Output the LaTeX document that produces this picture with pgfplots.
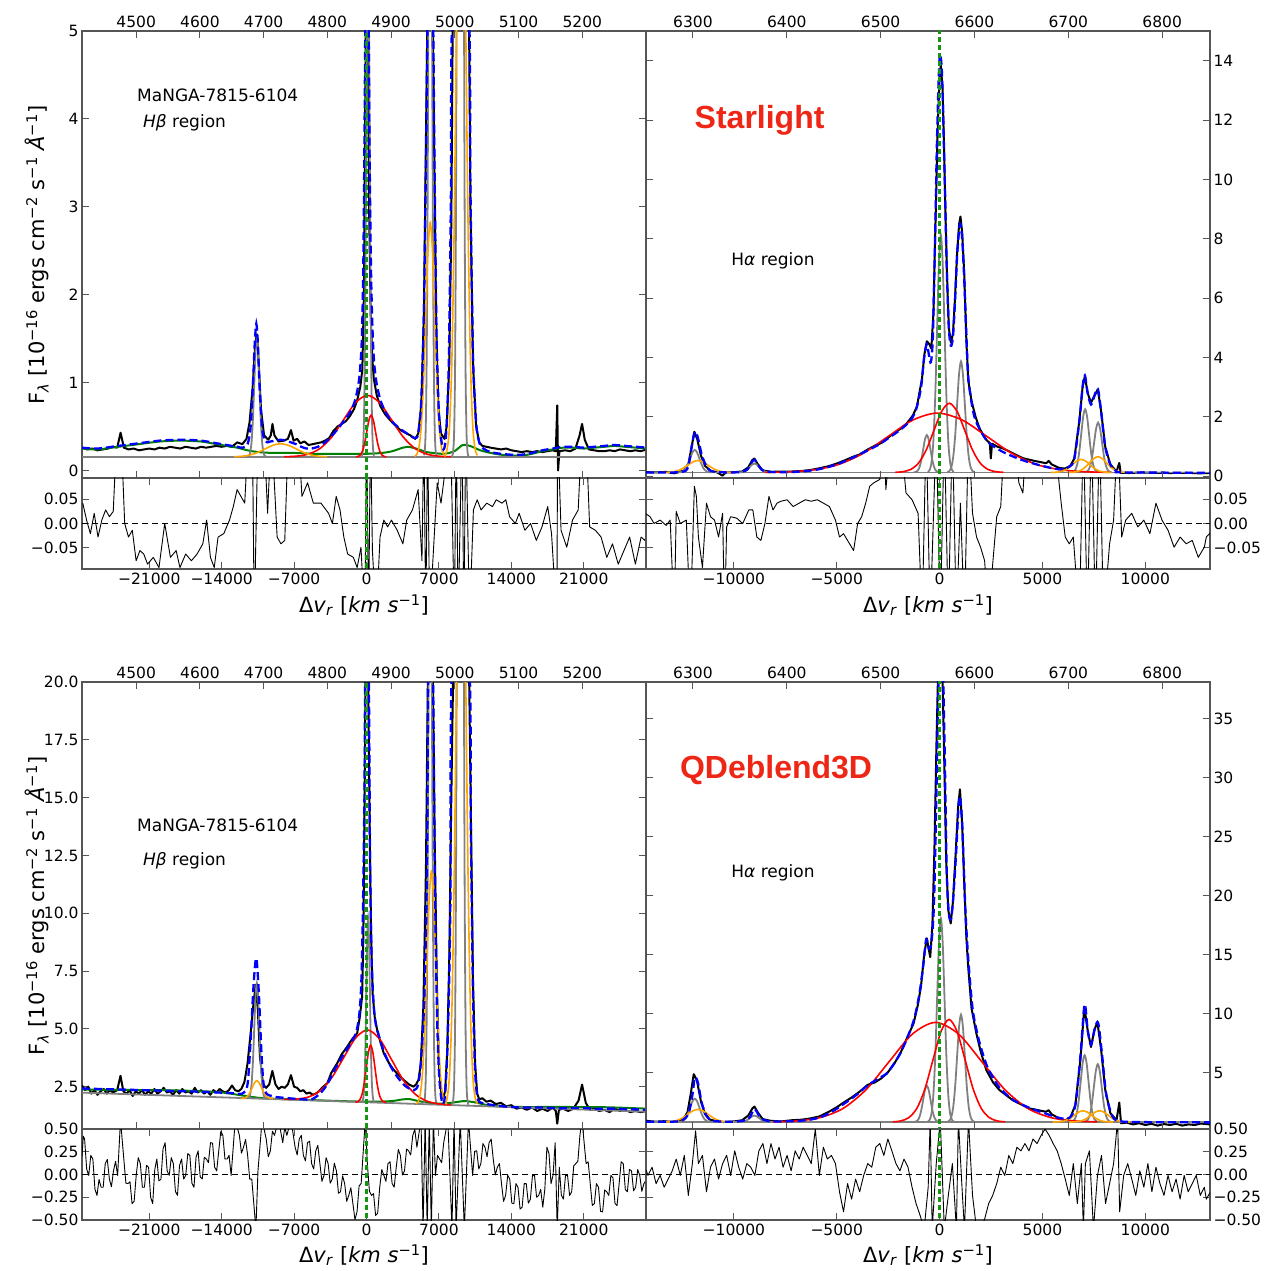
\documentclass[border=0pt]{standalone}
\usepackage{fontspec}
\setmainfont{DejaVu Sans}
\newfontfamily\labfont{Liberation Sans}
\usepackage{pgfplots}
\pgfplotsset{compat=1.18}
\definecolor{mplblue}{RGB}{0,0,255}
\definecolor{mplgreen}{RGB}{0,128,0}
\definecolor{vzgreen}{RGB}{20,150,20}
\definecolor{mplorange}{RGB}{255,165,0}
\definecolor{mplgray}{RGB}{128,128,128}
\definecolor{mplred}{RGB}{255,0,0}
\definecolor{labred}{RGB}{238,38,22}
\definecolor{framegray}{RGB}{85,85,85}
\newcommand\ticksize{\fontsize{15.5}{18}\selectfont}
\newcommand\labsize{\fontsize{21}{25}\selectfont}
\newcommand\txtsize{\fontsize{17}{20}\selectfont}
\pgfplotsset{
 common/.style={scale only axis, width=564pt, anchor=south west, scaled ticks=false,
   axis line style={framegray, line width=1.2pt},
   every tick/.style={framegray, line width=1pt},
   major tick length=7pt, tick label style={font=\ticksize}},
 mainax/.style={common, height=447pt, xtick=\empty},
 twinax/.style={common, height=447pt, ymin=0, ymax=1, ytick=\empty,
   axis line style={draw=none}, xticklabel pos=upper},
 resax/.style={common, height=91pt},
 obs/.style={black, line width=2pt, line join=round},
 mod/.style={mplblue, line width=2.3pt, dash pattern=on 8pt off 4pt, smooth},
 gcomp/.style={mplgray, line width=1.8pt, smooth},
 rcomp/.style={mplred, line width=1.6pt, smooth},
 ocomp/.style={mplorange, line width=1.6pt, smooth},
 grcomp/.style={mplgreen, line width=2pt, smooth},
 res/.style={black, line width=0.9pt, line join=round},
 vz/.style={vzgreen, line width=2.2pt, dash pattern=on 5pt off 3pt},
 zl/.style={black, line width=1.4pt, dash pattern=on 6pt off 4pt},
}
\begin{document}
\begin{tikzpicture}
\path[use as bounding box] (0pt,0pt) rectangle (1276pt,1270pt);
%================ TOP LEFT MAIN
\begin{axis}[mainax, at={(82pt,792pt)}, xmin=-27500, xmax=27020, ymin=-0.085, ymax=5,
  ytick={0,1,2,3,4,5}, yticklabels={0,1,2,3,4,5}]
\addplot[obs] coordinates {(-27500,0.26) (-27000,0.24) (-26500,0.25) (-26000,0.23) (-25500,0.24) (-25000,0.25) (-24500,0.27) (-24100,0.26) (-23770,0.43) (-23450,0.26) (-23000,0.24) (-22500,0.25) (-22000,0.23) (-21500,0.24) (-21000,0.25) (-20500,0.24) (-20000,0.26) (-19500,0.25) (-19000,0.27) (-18500,0.26) (-18000,0.25) (-17500,0.27) (-17000,0.26) (-16500,0.25) (-16000,0.27) (-15500,0.26) (-15000,0.27) (-14500,0.28) (-14000,0.27) (-13500,0.28) (-13000,0.27) (-12500,0.32) (-12000,0.30) (-11600,0.36) (-11300,0.55) (-11000,0.95) (-10750,1.45) (-10600,1.55) (-10450,1.30) (-10200,0.70) (-9900,0.40) (-9500,0.35) (-9250,0.40) (-9090,0.53) (-8900,0.40) (-8500,0.33) (-8000,0.34) (-7600,0.36) (-7300,0.46) (-7050,0.34) (-6700,0.36) (-6400,0.31) (-6000,0.33) (-5600,0.29) (-5200,0.30) (-4800,0.31) (-4400,0.32) (-4000,0.34) (-3600,0.37) (-3200,0.45) (-2800,0.50) (-2400,0.53) (-2000,0.56) (-1600,0.62) (-1200,0.70) (-900,0.80) (-600,0.95) (-400,1.15) (-250,2.0) (-130,4.0) (-50,5.3) (120,5.3) (250,3.0) (400,1.8) (550,1.3) (700,1.05) (1000,0.85) (1350,0.73) (1800,0.64) (2310,0.57) (2800,0.51) (3270,0.46) (3750,0.43) (4235,0.40) (4716,0.36) (5000,0.42) (5300,0.75) (5550,1.8) (5750,3.8) (5900,5.3) (6400,5.3) (6550,3.6) (6750,1.6) (6950,0.7) (7200,0.42) (7545,0.36) (7750,0.50) (8000,1.2) (8200,2.8) (8350,5.3) (9900,5.3) (10050,3.0) (10300,1.2) (10600,0.5) (10900,0.32) (11200,0.28) (11600,0.27) (12000,0.26) (12500,0.25) (13000,0.24) (13500,0.25) (14000,0.23) (14500,0.22) (15000,0.21) (15500,0.22) (16000,0.21) (16500,0.22) (17000,0.21) (17500,0.22) (18000,0.23) (18300,0.22) (18440,0.74) (18520,0.0) (18650,0.22) (19200,0.23) (19700,0.22) (20200,0.25) (20600,0.40) (20840,0.53) (21100,0.35) (21500,0.24) (22000,0.23) (22500,0.22) (23000,0.22) (23500,0.23) (24000,0.22) (24500,0.24) (25000,0.23) (25500,0.22) (26000,0.23) (26500,0.22) (27100,0.24)};
\addplot[grcomp] coordinates {(-27500,0.25) (-26000,0.24) (-24000,0.27) (-22000,0.30) (-20000,0.33) (-18000,0.34) (-16000,0.33) (-14500,0.30) (-13500,0.28) (-12500,0.26) (-11500,0.23) (-10500,0.21) (-9000,0.20) (-7000,0.20) (-5000,0.19) (-3000,0.19) (-1000,0.19) (0,0.19) (1500,0.20) (2500,0.22) (3500,0.26) (4000,0.27) (4800,0.25) (5800,0.21) (6500,0.20) (7500,0.19) (8500,0.22) (9300,0.29) (10000,0.28) (11000,0.23) (12000,0.20) (13000,0.18) (14000,0.17) (15000,0.17) (16000,0.19) (17000,0.22) (18000,0.24) (19000,0.26) (20000,0.26) (21000,0.25) (22000,0.26) (23000,0.27) (24000,0.28) (25000,0.27) (27100,0.25)};
\addplot[gcomp] coordinates {(-27500,0.155) (27100,0.155)};
\addplot[gcomp] coordinates {(-450,0.168) (-365,0.220) (-280,0.412) (-195,0.947) (-110,2.054) (-25,3.703) (60,5.318) (145,6.005) (230,5.318) (315,3.703) (400,2.054) (485,0.947) (570,0.412) (655,0.220) (740,0.168)};
\addplot[gcomp] coordinates {(-11475,0.158) (-11350,0.170) (-11225,0.214) (-11100,0.338) (-10975,0.593) (-10850,0.974) (-10725,1.346) (-10600,1.505) (-10475,1.346) (-10350,0.974) (-10225,0.593) (-10100,0.338) (-9975,0.214) (-9850,0.170) (-9725,0.158)};
\addplot[gcomp] coordinates {(5565,0.174) (5650,0.249) (5735,0.528) (5820,1.305) (5905,2.915) (5990,5.31) (6075,7.655) (6160,8.655) (6245,7.655) (6330,5.31) (6415,2.915) (6500,1.305) (6585,0.528) (6670,0.249) (6755,0.174)};
\addplot[gcomp] coordinates {(8270,0.163) (8370,0.21) (8470,0.433) (8570,1.25) (8670,3.54) (8770,8.27) (8870,15.32) (8970,22.22) (9070,25.155) (9170,22.22) (9270,15.32) (9370,8.27) (9470,3.54) (9570,1.25) (9670,0.433) (9770,0.21) (9870,0.163)};
\addplot[rcomp] coordinates {(-7950,0.157) (-6800,0.163) (-5650,0.186) (-4500,0.250) (-3350,0.382) (-2200,0.580) (-1050,0.773) (100,0.855) (1250,0.773) (2400,0.580) (3550,0.382) (4700,0.250) (5850,0.186) (7000,0.163) (8150,0.157)};
\addplot[rcomp] coordinates {(-1020,0.156) (-810,0.160) (-600,0.176) (-390,0.219) (-180,0.309) (30,0.443) (240,0.574) (450,0.630) (660,0.574) (870,0.443) (1080,0.309) (1290,0.219) (1500,0.176) (1710,0.160) (1920,0.156)};
\addplot[ocomp] coordinates {(-12800,0.157) (-12050,0.162) (-11300,0.175) (-10550,0.204) (-9800,0.246) (-9050,0.287) (-8300,0.305) (-7550,0.287) (-6800,0.246) (-6050,0.204) (-5300,0.175) (-4550,0.162) (-3800,0.157)};
\addplot[ocomp] coordinates {(4655,0.161) (4870,0.185) (5085,0.272) (5300,0.516) (5515,1.02) (5730,1.771) (5945,2.507) (6160,2.82) (6375,2.507) (6590,1.771) (6805,1.02) (7020,0.516) (7235,0.272) (7450,0.185) (7665,0.161)};
\addplot[ocomp] coordinates {(7575,0.173) (7800,0.244) (8025,0.506) (8250,1.237) (8475,2.753) (8700,5.007) (8925,7.215) (9150,8.155) (9375,7.215) (9600,5.007) (9825,2.753) (10050,1.237) (10275,0.506) (10500,0.244) (10725,0.173)};
\addplot[mod] coordinates {(-27500,0.26) (-26000,0.25) (-24000,0.28) (-22000,0.31) (-20000,0.34) (-18000,0.35) (-16000,0.34) (-14500,0.31) (-13500,0.29) (-12500,0.27) (-12000,0.26) (-11500,0.30) (-11200,0.50) (-10950,1.05) (-10800,1.45) (-10650,1.67) (-10500,1.45) (-10350,1.0) (-10100,0.50) (-9800,0.33) (-9300,0.33) (-8800,0.34) (-8300,0.35) (-7800,0.34) (-7300,0.32) (-6800,0.30) (-6300,0.27) (-5800,0.25) (-5300,0.25) (-4700,0.27) (-4000,0.32) (-3400,0.39) (-2800,0.47) (-2200,0.56) (-1600,0.66) (-1100,0.80) (-700,1.05) (-450,1.5) (-300,2.4) (-180,4.0) (-80,5.3) (180,5.3) (300,3.6) (450,2.2) (650,1.4) (900,1.05) (1300,0.82) (1800,0.67) (2300,0.58) (2800,0.52) (3300,0.47) (3800,0.43) (4300,0.39) (4700,0.37) (5000,0.42) (5300,0.8) (5550,1.8) (5780,3.8) (5950,5.3) (6400,5.3) (6550,3.8) (6750,1.7) (6950,0.8) (7150,0.42) (7450,0.24) (7700,0.42) (7950,1.2) (8150,3.0) (8350,5.3) (9850,5.3) (10050,3.2) (10300,1.3) (10600,0.55) (10900,0.32) (11300,0.25) (12000,0.21) (13000,0.19) (14000,0.18) (15000,0.18) (16000,0.2) (17000,0.23) (18000,0.25) (19000,0.27) (20000,0.27) (21000,0.26) (22000,0.27) (23000,0.28) (24000,0.29) (25000,0.28) (27100,0.26)};
\addplot[vz] coordinates {(0,-1) (0,6)};
\node[anchor=west, font=\txtsize, inner sep=0pt] at (rel axis cs:0.0975,0.857) {MaNGA-7815-6104};
\node[anchor=west, font=\txtsize, inner sep=0pt] at (rel axis cs:0.108,0.794) {\textit{Hβ} region};
\end{axis}
\begin{axis}[twinax, at={(82pt,792pt)}, xmin=4415, xmax=5300,
  xtick={4500,4600,4700,4800,4900,5000,5100,5200}, xticklabels={4500,4600,4700,4800,4900,5000,5100,5200}]
\end{axis}
%================ TOP LEFT RESIDUAL
\begin{axis}[resax, at={(82pt,701pt)}, xmin=-27500, xmax=27020, ymin=-0.094, ymax=0.094,
  xtick={-21000,-14000,-7000,0,7000,14000,21000}, xticklabels={−21000,−14000,−7000,0,7000,14000,21000},
  ytick={-0.05,0,0.05}, yticklabels={−0.05,0.00,0.05}]
\addplot[res] coordinates {(-27426,0.042) (-27057,0.007) (-26689,-0.021) (-26320,0.021) (-25952,-0.028) (-25584,0.007) (-25215,0.028) (-24847,0.014) (-24479,0.025) (-24110,0.2) (-23742,0.2) (-23373,0) (-23005,-0.028) (-22637,-0.014) (-22268,-0.077) (-21900,-0.056) (-21531,-0.063) (-21163,-0.084) (-20610,-0.070) (-20058,-0.091) (-19505,0.0) (-18953,-0.070) (-18400,-0.056) (-18032,-0.091) (-17479,-0.063) (-16926,-0.077) (-16374,-0.063) (-15821,-0.042) (-15453,0.007) (-15084,-0.070) (-14716,-0.091) (-14348,-0.028) (-13795,-0.021) (-13242,0.007) (-12874,0.035) (-12506,0.070) (-12137,0.056) (-11769,0.042) (-11400,0.2) (-11032,0.2) (-10848,-0.2) (-10479,0.2) (-9927,0.2) (-9558,0.021) (-9190,0.2) (-8637,-0.028) (-8269,-0.042) (-7900,-0.035) (-7532,0.2) (-6980,0.2) (-6611,0.2) (-6243,0.056) (-5690,0.084) (-5138,0.042) (-4401,0.042) (-3664,0.021) (-3296,0.0) (-2927,0.056) (-2559,0.028) (-2190,-0.028) (-1822,-0.063) (-1269,-0.070) (-901,-0.091) (-533,-0.049) (-164,-0.2) (20,0.2) (204,-0.2) (388,0.2) (573,-0.056) (941,-0.2) (1309,-0.028) (1678,0.007) (2046,-0.007) (2415,0.007) (2967,-0.014) (3520,-0.042) (3888,0.007) (4441,0.028) (4993,0.070) (5362,-0.077) (5546,0.2) (5730,-0.2) (5914,0.2) (6099,-0.2) (6835,0.084) (7204,0.042) (8125,0.2) (8493,-0.2) (8677,0.2) (8862,-0.2) (9230,0.2) (9414,-0.2) (9598,0.2) (9967,-0.2) (10335,0.028) (10704,0.049) (11072,0.028) (11625,0.042) (12177,0.035) (12546,0.049) (13098,0.042) (13467,0.049) (13835,0.014) (14388,0.0) (14756,0.021) (15309,-0.014) (15861,0.0) (16414,-0.035) (16966,-0.007) (17519,0.035) (17887,-0.021) (18400,-0.2) (18480,0.2) (18808,-0.014) (19361,-0.049) (19914,0.007) (20466,0.028) (20835,0.2) (21203,0.2) (21571,-0.007) (22124,-0.014) (22677,-0.028) (23229,-0.070) (23782,-0.042) (24334,-0.084) (24887,-0.056) (25440,-0.028) (25992,-0.084) (26545,-0.028) (26913,-0.035) (27100,-0.02)};
\addplot[zl] coordinates {(-27500,0) (27020,0)};
\addplot[vz] coordinates {(0,-1) (0,1)};
\end{axis}
%================ TOP RIGHT MAIN
\begin{axis}[mainax, at={(646pt,792pt)}, xmin=-14270, xmax=13145, ymin=-0.057, ymax=15,
  ytick={0,2,4,6,8,10,12,14}, yticklabels={0,2,4,6,8,10,12,14}, yticklabel pos=right]
\addplot[obs] coordinates {(-14270,0.14) (-13800,0.13) (-13300,0.15) (-12900,0.10) (-12700,0.14) (-12400,0.20) (-12200,0.45) (-12050,1.0) (-11920,1.5) (-11780,1.25) (-11600,0.7) (-11400,0.35) (-11100,0.17) (-10800,0.13) (-10550,0.02) (-10400,0.13) (-10000,0.14) (-9600,0.16) (-9300,0.30) (-9100,0.55) (-9000,0.60) (-8850,0.42) (-8600,0.2) (-8200,0.15) (-7700,0.16) (-7200,0.16) (-6700,0.18) (-6300,0.21) (-5850,0.27) (-5400,0.34) (-5000,0.43) (-4600,0.54) (-4200,0.66) (-3900,0.73) (-3500,0.90) (-3100,1.05) (-2870,1.11) (-2600,1.25) (-2230,1.45) (-1900,1.60) (-1585,1.79) (-1300,2.05) (-1100,2.35) (-960,2.9) (-860,3.25) (-740,4.1) (-620,4.55) (-500,4.45) (-400,4.3) (-300,5.5) (-200,8.5) (-100,11.5) (0,13.5) (60,13.85) (150,13.0) (250,10.0) (350,7.0) (450,5.0) (550,4.5) (650,4.8) (750,6.0) (850,7.5) (950,8.5) (1015,8.75) (1100,8.2) (1200,6.8) (1300,4.6) (1390,3.25) (1550,2.55) (1750,2.0) (1950,1.6) (2280,1.22) (2440,1.12) (2490,0.6) (2550,1.1) (2800,1.0) (3080,0.94) (3500,0.80) (4050,0.61) (4600,0.52) (5180,0.44) (5300,0.52) (5450,0.40) (5820,0.28) (6100,0.26) (6350,0.35) (6550,0.6) (6800,1.9) (6950,3.0) (7060,3.38) (7200,2.8) (7360,2.48) (7520,2.7) (7690,2.93) (7850,2.2) (8050,1.0) (8300,0.4) (8600,0.16) (8735,0.45) (8800,0.12) (9200,0.11) (9800,0.13) (10500,0.12) (11200,0.11) (12000,0.12) (12600,0.10) (13145,0.11)};
\addplot[gcomp] coordinates {(-14270,0.13) (13145,0.13)};
\addplot[gcomp] coordinates {(-570,0.148) (-480,0.219) (-390,0.482) (-300,1.214) (-210,2.731) (-120,4.988) (-30,7.199) (60,8.14) (150,7.199) (240,4.988) (330,2.731) (420,1.214) (510,0.482) (600,0.219) (690,0.148)};
\addplot[gcomp] coordinates {(-1250,0.133) (-1160,0.144) (-1070,0.185) (-980,0.300) (-890,0.539) (-800,0.894) (-710,1.242) (-620,1.39) (-530,1.242) (-440,0.894) (-350,0.539) (-260,0.300) (-170,0.185) (-80,0.144) (10,0.133)};
\addplot[gcomp] coordinates {(375,0.138) (470,0.172) (565,0.294) (660,0.636) (755,1.344) (850,2.398) (945,3.431) (1040,3.87) (1135,3.431) (1230,2.398) (1325,1.344) (1420,0.636) (1515,0.294) (1610,0.172) (1705,0.138)};
\addplot[gcomp] coordinates {(6410,0.135) (6505,0.154) (6600,0.224) (6695,0.418) (6790,0.822) (6885,1.422) (6980,2.01) (7075,2.26) (7170,2.01) (7265,1.422) (7360,0.822) (7455,0.418) (7550,0.224) (7645,0.154) (7740,0.135)};
\addplot[gcomp] coordinates {(7040,0.134) (7135,0.149) (7230,0.204) (7325,0.357) (7420,0.675) (7515,1.149) (7610,1.613) (7705,1.81) (7800,1.613) (7895,1.149) (7990,0.675) (8085,0.357) (8180,0.204) (8275,0.149) (8370,0.134)};
\addplot[gcomp] coordinates {(-12705,0.132) (-12590,0.138) (-12475,0.163) (-12360,0.233) (-12245,0.377) (-12130,0.591) (-12015,0.801) (-11900,0.89) (-11785,0.801) (-11670,0.591) (-11555,0.377) (-11440,0.233) (-11325,0.163) (-11210,0.138) (-11095,0.132)};
\addplot[gcomp] coordinates {(-9805,0.131) (-9690,0.133) (-9575,0.143) (-9460,0.171) (-9345,0.227) (-9230,0.312) (-9115,0.395) (-9000,0.43) (-8885,0.395) (-8770,0.312) (-8655,0.227) (-8540,0.171) (-8425,0.143) (-8310,0.133) (-8195,0.131)};
\addplot[rcomp] coordinates {(-8500,0.134) (-7300,0.152) (-6100,0.218) (-4900,0.401) (-3700,0.779) (-2500,1.343) (-1300,1.895) (-100,2.13) (1100,1.895) (2300,1.343) (3500,0.779) (4700,0.401) (5900,0.218) (7100,0.152) (8300,0.134)};
\addplot[rcomp] coordinates {(-2150,0.135) (-1775,0.156) (-1400,0.232) (-1025,0.445) (-650,0.887) (-275,1.543) (100,2.186) (475,2.46) (850,2.186) (1225,1.543) (1600,0.887) (1975,0.445) (2350,0.232) (2725,0.156) (3100,0.135)};
\addplot[ocomp] coordinates {(-13500,0.131) (-13250,0.134) (-13000,0.148) (-12750,0.184) (-12500,0.26) (-12250,0.373) (-12000,0.483) (-11750,0.53) (-11500,0.483) (-11250,0.373) (-11000,0.26) (-10750,0.184) (-10500,0.148) (-10250,0.134) (-10000,0.131)};
\addplot[ocomp] coordinates {(5410,0.131) (5620,0.135) (5830,0.149) (6040,0.19) (6250,0.273) (6460,0.397) (6670,0.518) (6880,0.57) (7090,0.518) (7300,0.397) (7510,0.273) (7720,0.19) (7930,0.149) (8140,0.135) (8350,0.131)};
\addplot[ocomp] coordinates {(6230,0.131) (6440,0.136) (6650,0.153) (6860,0.202) (7070,0.302) (7280,0.451) (7490,0.598) (7700,0.66) (7910,0.598) (8120,0.451) (8330,0.302) (8540,0.202) (8750,0.153) (8960,0.136) (9170,0.131)};
\addplot[mod] coordinates {(-14270,0.13) (-12500,0.15) (-12200,0.4) (-12050,1.0) (-11900,1.5) (-11750,1.3) (-11550,0.7) (-11300,0.3) (-11000,0.16) (-10000,0.13) (-9400,0.2) (-9150,0.45) (-9000,0.56) (-8850,0.42) (-8600,0.2) (-8000,0.14) (-7000,0.15) (-6000,0.22) (-5000,0.40) (-4000,0.70) (-3000,1.05) (-2500,1.28) (-2000,1.52) (-1600,1.75) (-1300,2.0) (-1100,2.35) (-900,3.0) (-750,4.0) (-620,4.45) (-520,4.1) (-420,3.85) (-320,4.8) (-220,8.0) (-120,11.5) (0,14.1) (120,13.5) (250,10.0) (350,7.0) (450,5.0) (550,4.4) (650,4.7) (750,5.9) (850,7.4) (950,8.3) (1015,8.5) (1100,8.0) (1200,6.6) (1300,4.8) (1400,3.3) (1600,2.3) (1800,1.8) (2300,1.2) (3000,0.85) (4000,0.55) (5000,0.35) (5800,0.24) (6300,0.32) (6550,0.6) (6800,1.9) (6950,3.0) (7060,3.4) (7200,2.8) (7360,2.42) (7520,2.7) (7690,2.95) (7850,2.2) (8050,1.0) (8300,0.4) (8600,0.17) (9000,0.13) (13145,0.12)};
\addplot[vz] coordinates {(0,-1) (0,16)};
\node[anchor=west, font=\labfont\bfseries\fontsize{32}{36}\selectfont, text=labred, inner sep=0pt] at (rel axis cs:0.086,0.80) {Starlight};
\node[anchor=west, font=\txtsize, inner sep=0pt] at (rel axis cs:0.151,0.485) {H\textit{α} region};
\end{axis}
\begin{axis}[twinax, at={(646pt,792pt)}, xmin=6250, xmax=6851,
  xtick={6300,6400,6500,6600,6700,6800}, xticklabels={6300,6400,6500,6600,6700,6800}]
\end{axis}
%================ TOP RIGHT RESIDUAL
\begin{axis}[resax, at={(646pt,701pt)}, xmin=-14270, xmax=13145, ymin=-0.094, ymax=0.094,
  xtick={-10000,-5000,0,5000,10000}, xticklabels={−10000,−5000,0,5000,10000},
  ytick={-0.05,0,0.05}, yticklabels={−0.05,0.00,0.05}, yticklabel pos=right]
\addplot[res] coordinates {(-14270,0.02) (-14074,0.014) (-13878,0.0) (-13584,0.007) (-13290,-0.004) (-13094,0.007) (-12899,-0.2) (-12801,0.025) (-12605,0.0) (-12311,0.007) (-12115,-0.2) (-11919,0.077) (-11821,0.056) (-11723,-0.028) (-11527,-0.091) (-11331,0.042) (-11135,0.014) (-10939,0.007) (-10743,-0.028) (-10547,0.021) (-10449,-0.2) (-10351,-0.007) (-10155,0.014) (-9861,0.011) (-9568,0.0) (-9274,0.028) (-9078,0.028) (-8882,-0.028) (-8686,-0.035) (-8490,0.0) (-8294,0.056) (-8098,0.028) (-7902,0.042) (-7706,0.046) (-7412,0.049) (-7118,0.035) (-6824,0.042) (-6530,0.049) (-6237,0.046) (-5943,0.049) (-5649,0.042) (-5355,0.035) (-5061,0.007) (-4865,-0.028) (-4669,-0.021) (-4375,-0.042) (-4179,-0.056) (-3983,0.0) (-3787,0.014) (-3592,0.042) (-3396,0.077) (-3200,0.084) (-2906,0.091) (-2710,0.2) (-2612,0.070) (-2318,0.2) (-1926,0.2) (-1632,0.063) (-1338,0.049) (-1044,0.021) (-848,-0.2) (-652,0.2) (-456,-0.2) (-162,0.2) (34,-0.2) (230,0.2) (425,-0.2) (621,0.2) (817,-0.2) (1013,0.042) (1209,-0.2) (1405,0.2) (1601,0.021) (1797,-0.028) (1993,-0.049) (2189,-0.077) (2385,-0.2) (2581,-0.084) (2777,0.014) (2973,0.035) (3169,0.2) (3561,0.2) (3855,0.084) (4050,0.063) (4246,0.2) (5520,0.2) (5912,0.042) (6108,-0.028) (6304,-0.042) (6500,-0.028) (6794,-0.2) (6989,0.2) (7185,-0.2) (7381,0.2) (7577,-0.2) (7773,0.2) (7969,-0.2) (8263,-0.042) (8459,0.007) (8655,0.2) (8851,-0.028) (9047,0.007) (9341,0.021) (9635,-0.007) (9929,0.007) (10223,-0.021) (10517,0.042) (10811,0.007) (11105,-0.014) (11399,-0.049) (11693,-0.028) (11987,-0.042) (12281,-0.035) (12575,-0.070) (12868,-0.049) (12966,-0.028) (13145,-0.02)};
\addplot[zl] coordinates {(-14270,0) (13145,0)};
\addplot[vz] coordinates {(0,-1) (0,1)};
\end{axis}
%================ BOTTOM LEFT MAIN
\begin{axis}[mainax, at={(82pt,141pt)}, xmin=-27500, xmax=27020, ymin=0.67, ymax=20,
  ytick={2.5,5,7.5,10,12.5,15,17.5,20}, yticklabels={2.5,5.0,7.5,10.0,12.5,15.0,17.5,20.0}]
\addplot[obs] coordinates {(-27500,2.55) (-27200,2.35) (-26900,2.50) (-26600,2.20) (-26300,2.35) (-26000,2.15) (-25700,2.30) (-25400,2.40) (-25100,2.20) (-24800,2.35) (-24500,2.25) (-24100,2.35) (-23780,2.97) (-23500,2.30) (-23200,2.20) (-22900,2.35) (-22600,2.10) (-22300,2.30) (-22000,2.20) (-21700,2.35) (-21400,2.15) (-21100,2.30) (-20800,2.20) (-20500,2.40) (-20200,2.20) (-19900,2.30) (-19600,2.45) (-19300,2.25) (-19000,2.30) (-18700,2.15) (-18400,2.35) (-18100,2.20) (-17800,2.40) (-17500,2.25) (-17200,2.30) (-16900,2.20) (-16600,2.45) (-16300,2.25) (-16000,2.35) (-15700,2.20) (-15400,2.30) (-15100,2.15) (-14800,2.35) (-14500,2.25) (-14200,2.40) (-13900,2.30) (-13600,2.25) (-13300,2.35) (-13000,2.55) (-12700,2.35) (-12400,2.30) (-12100,2.40) (-11800,2.70) (-11500,3.5) (-11200,4.8) (-10900,6.2) (-10700,6.9) (-10500,5.8) (-10300,3.8) (-10000,2.6) (-9700,2.45) (-9400,2.6) (-9100,3.18) (-8800,2.6) (-8500,2.4) (-8200,2.5) (-7900,2.45) (-7600,2.6) (-7300,3.0) (-7000,2.5) (-6700,2.45) (-6400,2.3) (-6100,2.35) (-5800,2.2) (-5500,2.25) (-5200,2.15) (-4900,2.2) (-4600,2.3) (-4300,2.45) (-3785,2.65) (-3400,3.1) (-2823,3.52) (-2400,3.9) (-1860,4.23) (-1400,4.55) (-900,4.81) (-650,5.5) (-420,6.4) (-300,9) (-180,15) (-80,21) (150,21) (300,14) (450,9) (600,6.5) (800,5.5) (1026,4.96) (1300,4.5) (1668,3.95) (2200,3.5) (2630,3.23) (3100,3.0) (3590,2.79) (4100,2.6) (4550,2.5) (4800,2.6) (5030,2.8) (5250,3.5) (5500,6) (5750,12) (5950,21) (6400,21) (6600,13) (6800,7) (7000,3.5) (7200,2.3) (7400,2.0) (7600,2.3) (7800,4.0) (8000,8) (8200,15) (8400,21) (9900,21) (10100,14) (10300,7) (10500,3.5) (10700,2.2) (10900,1.95) (11200,2.0) (11600,1.85) (12000,1.90) (12500,1.75) (13000,1.80) (13500,1.65) (14000,1.70) (14500,1.55) (15000,1.60) (15500,1.50) (16000,1.60) (16500,1.45) (17000,1.55) (17500,1.45) (18000,1.60) (18300,1.45) (18440,0.9) (18600,1.50) (19000,1.55) (19500,1.45) (20000,1.55) (20500,1.9) (20840,2.59) (21200,1.8) (21600,1.50) (22000,1.55) (22500,1.45) (23000,1.50) (23500,1.40) (24000,1.55) (24500,1.45) (25000,1.50) (25500,1.40) (26000,1.45) (26500,1.40) (27100,1.45)};
\addplot[grcomp] coordinates {(-27500,2.38) (-24000,2.36) (-20000,2.35) (-17000,2.32) (-14000,2.25) (-12000,2.12) (-10000,2.0) (-7000,1.95) (-4000,1.9) (-1000,1.86) (1000,1.85) (2500,1.88) (3500,1.95) (4200,1.96) (5000,1.88) (6500,1.78) (7500,1.77) (8800,1.84) (9500,1.88) (10500,1.82) (12000,1.68) (14000,1.63) (16000,1.62) (18000,1.63) (20000,1.62) (22000,1.62) (24000,1.60) (27100,1.55)};
\addplot[gcomp] coordinates {(-27500,2.243) (27100,1.418)};
\addplot[gcomp] coordinates {(-435,1.842) (-350,1.913) (-265,2.174) (-180,2.901) (-95,4.406) (-10,6.647) (75,8.841) (160,9.775) (245,8.841) (330,6.647) (415,4.406) (500,2.901) (585,2.174) (670,1.913) (755,1.842)};
\addplot[gcomp] coordinates {(-11475,1.998) (-11350,2.043) (-11225,2.207) (-11100,2.664) (-10975,3.611) (-10850,5.02) (-10725,6.40) (-10600,6.987) (-10475,6.40) (-10350,5.02) (-10225,3.611) (-10100,2.664) (-9975,2.207) (-9850,2.043) (-9725,1.998)};
\addplot[gcomp] coordinates {(5565,1.796) (5650,2.045) (5735,2.964) (5820,5.524) (5905,10.824) (5990,18.714) (6075,26.444) (6160,29.734) (6245,26.444) (6330,18.714) (6415,10.824) (6500,5.524) (6585,2.964) (6670,2.045) (6755,1.796)};
\addplot[gcomp] coordinates {(8270,1.719) (8370,1.877) (8470,2.634) (8570,5.42) (8670,13.19) (8770,29.29) (8870,53.24) (8970,76.7) (9070,86.69) (9170,76.7) (9270,53.24) (9370,29.29) (9470,13.19) (9570,5.42) (9670,2.634) (9770,1.877) (9870,1.719)};
\addplot[rcomp] coordinates {(-7950,1.954) (-6800,1.965) (-5650,2.049) (-4500,2.318) (-3350,2.894) (-2200,3.758) (-1050,4.605) (100,4.955) (1250,4.57) (2400,3.689) (3550,2.789) (4700,2.179) (5850,1.876) (7000,1.756) (8150,1.711)};
\addplot[rcomp] coordinates {(-1070,1.825) (-860,1.847) (-650,1.928) (-440,2.154) (-230,2.622) (-20,3.318) (190,4.0) (400,4.29) (610,4.0) (820,3.318) (1030,2.622) (1240,2.154) (1450,1.928) (1660,1.847) (1870,1.825)};
\addplot[ocomp] coordinates {(-12175,1.989) (-11950,1.996) (-11725,2.021) (-11500,2.091) (-11275,2.237) (-11050,2.454) (-10825,2.667) (-10600,2.757) (-10375,2.667) (-10150,2.454) (-9925,2.237) (-9700,2.091) (-9475,2.021) (-9250,1.996) (-9025,1.989)};
\addplot[ocomp] coordinates {(4770,1.755) (4985,1.845) (5200,2.175) (5415,3.095) (5630,5.003) (5845,7.84) (6060,10.62) (6275,11.80) (6490,10.62) (6705,7.84) (6920,5.003) (7135,3.095) (7350,2.175) (7565,1.845) (7780,1.755)};
\addplot[ocomp] coordinates {(7575,1.756) (7800,2.023) (8025,3.01) (8250,5.75) (8475,11.43) (8700,19.89) (8925,28.17) (9150,31.69) (9375,28.17) (9600,19.89) (9825,11.43) (10050,5.75) (10275,3.01) (10500,2.023) (10725,1.756)};
\addplot[mod] coordinates {(-27500,2.42) (-24000,2.38) (-20000,2.33) (-16000,2.28) (-13000,2.22) (-12000,2.2) (-11500,2.6) (-11200,4.5) (-10900,7.0) (-10650,8.05) (-10400,6.5) (-10100,3.5) (-9800,2.3) (-9000,2.08) (-8000,2.02) (-7000,1.98) (-6000,1.95) (-5300,1.95) (-4500,2.2) (-3800,2.6) (-3000,3.3) (-2200,3.9) (-1500,4.4) (-1000,4.85) (-700,5.6) (-500,7.0) (-350,10) (-200,15) (-100,21) (200,21) (350,12) (500,8) (700,6.0) (900,5.2) (1200,4.7) (1700,4.0) (2200,3.5) (2700,3.1) (3200,2.8) (3700,2.55) (4200,2.4) (4600,2.35) (5000,2.6) (5300,3.8) (5600,6.5) (5850,12) (6000,21) (6400,21) (6600,12) (6800,6) (7000,3.2) (7200,2.1) (7400,1.75) (7600,2.2) (7850,4.5) (8100,10) (8300,21) (9900,21) (10100,13) (10300,6.5) (10500,3.2) (10700,2.1) (10900,1.85) (11300,1.78) (12000,1.72) (13000,1.66) (14000,1.62) (15000,1.6) (16000,1.6) (17000,1.6) (18000,1.58) (19000,1.57) (20000,1.58) (21000,1.58) (22000,1.55) (23000,1.55) (24000,1.55) (25000,1.53) (26000,1.52) (27100,1.5)};
\addplot[vz] coordinates {(0,0) (0,25)};
\node[anchor=west, font=\txtsize, inner sep=0pt] at (rel axis cs:0.0975,0.68) {MaNGA-7815-6104};
\node[anchor=west, font=\txtsize, inner sep=0pt] at (rel axis cs:0.108,0.60) {\textit{Hβ} region};
\end{axis}
\begin{axis}[twinax, at={(82pt,141pt)}, xmin=4415, xmax=5300,
  xtick={4500,4600,4700,4800,4900,5000,5100,5200}, xticklabels={4500,4600,4700,4800,4900,5000,5100,5200}]
\end{axis}
%================ BOTTOM LEFT RESIDUAL
\begin{axis}[resax, at={(82pt,50pt)}, xmin=-27500, xmax=27020, ymin=-0.5, ymax=0.5,
  xtick={-21000,-14000,-7000,0,7000,14000,21000}, xticklabels={−21000,−14000,−7000,0,7000,14000,21000},
  ytick={-0.5,-0.25,0,0.25,0.5}, yticklabels={−0.50,−0.25,0.00,0.25,0.50}]
\addplot[res] coordinates {(-27500,0.2) (-27374,0.42) (-27248,0.39) (-27048,0.06) (-26849,-0.01) (-26650,0.21) (-26450,0.17) (-26250,-0.16) (-26051,-0.23) (-25852,-0.055) (-25652,-0.14) (-25452,-0.14) (-25253,0.12) (-25054,0.165) (-24854,-0.05) (-24655,-0.135) (-24455,0.04) (-24256,0.145) (-24056,-0.01) (-23777,0.6) (-23458,0.17) (-23258,-0.095) (-23059,-0.10) (-22860,-0.08) (-22660,-0.32) (-22460,-0.295) (-22261,-0.01) (-22062,0.185) (-21862,0.12) (-21662,-0.14) (-21463,-0.14) (-21264,0.10) (-21064,0.08) (-20864,-0.25) (-20665,-0.32) (-20466,0.055) (-20266,0.17) (-20066,-0.07) (-19867,-0.05) (-19668,0.28) (-19468,0.35) (-19268,0.04) (-19069,-0.01) (-18870,0.185) (-18670,0.12) (-18470,-0.185) (-18271,-0.23) (-18072,0.10) (-17872,0.17) (-17672,-0.05) (-17473,-0.01) (-17274,0.23) (-17074,0.21) (-16874,-0.095) (-16675,-0.14) (-16476,0.19) (-16276,0.26) (-16076,-0.025) (-15877,-0.05) (-15678,0.19) (-15478,0.17) (-15278,0.13) (-15079,0.35) (-14880,0.345) (-14680,0.08) (-14480,0.04) (-14281,0.26) (-14082,0.475) (-13882,0.43) (-13682,0.17) (-13483,0.17) (-13284,0.21) (-13084,-0.01) (-12685,0.6) (-12286,0.43) (-12086,0.235) (-11887,0.30) (-11688,0.385) (-11488,0.21) (-11288,-0.05) (-11089,-0.05) (-10690,-0.6) (-10490,0.04) (-10091,0.6) (-9692,0.39) (-9492,0.195) (-9293,0.26) (-9094,0.475) (-8894,0.43) (-8495,0.6) (-8096,0.35) (-7896,0.52) (-7697,0.43) (-7298,0.6) (-6899,0.30) (-6700,0.215) (-6500,0.39) (-6300,0.43) (-6101,0.21) (-5902,0.15) (-5702,0.35) (-5502,0.365) (-5303,0.12) (-5104,0.06) (-4904,0.26) (-4704,0.32) (-4505,0.12) (-4306,-0.075) (-4106,-0.01) (-3906,0.185) (-3707,0.12) (-3508,-0.095) (-3308,-0.05) (-3108,0.125) (-2909,0.04) (-2710,-0.205) (-2510,-0.19) (-2310,-0.015) (-2111,-0.10) (-1912,-0.295) (-1712,-0.23) (-1512,-0.145) (-1313,-0.32) (-1114,-0.495) (-914,-0.41) (-714,-0.125) (-515,-0.10) (-116,0.6) (84,0.12) (284,-0.185) (483,-0.23) (682,-0.21) (882,-0.45) (1082,-0.425) (1281,-0.14) (1480,0.055) (1680,-0.01) (1880,-0.075) (2079,0.12) (2278,0.14) (2478,-0.10) (2678,-0.14) (2877,0.08) (3076,0.275) (3276,0.21) (3476,-0.005) (3675,0.04) (3874,0.28) (4074,0.26) (4274,0.215) (4473,0.43) (4672,0.495) (4872,0.30) (5271,0.6) (5470,-0.6) (5670,0.6) (5869,-0.6) (6069,0.6) (6268,-0.6) (6468,0.6) (6667,-0.01) (6866,0.21) (7066,0.17) (7266,0.13) (7465,0.35) (7864,0.6) (8263,-0.6) (8463,0.6) (8662,-0.6) (9061,0.6) (9460,-0.6) (9859,0.6) (10258,-0.01) (10458,0.255) (10657,0.26) (10856,0.06) (11056,0.12) (11256,0.34) (11455,0.30) (11654,0.195) (11854,0.35) (12054,0.39) (12253,0.17) (12452,-0.005) (12652,0.08) (12852,0.12) (13051,-0.10) (13250,-0.295) (13450,-0.23) (13650,-0.01) (13849,-0.05) (14048,-0.315) (14248,-0.32) (14448,-0.10) (14647,-0.14) (14846,-0.38) (15046,-0.36) (15246,-0.10) (15445,-0.10) (15644,-0.315) (15844,-0.27) (16044,-0.01) (16243,-0.01) (16442,-0.25) (16642,-0.23) (16842,-0.165) (17041,-0.36) (17240,-0.16) (17440,0.30) (17640,0.23) (17839,-0.10) (18038,-0.005) (18238,0.35) (18437,-0.6) (18637,0.08) (18836,-0.225) (19036,-0.27) (19236,-0.01) (19435,-0.01) (19634,-0.23) (19834,-0.19) (20034,0.095) (20233,0.12) (20432,0.145) (20632,0.43) (20831,0.6) (21230,0.12) (21430,0.14) (21629,-0.10) (21828,-0.34) (22028,-0.32) (22228,-0.10) (22427,-0.14) (22626,-0.405) (22826,-0.41) (23026,-0.17) (23225,-0.19) (23424,-0.23) (23624,-0.01) (23824,-0.035) (24023,-0.32) (24222,-0.34) (24422,-0.10) (24622,0.14) (24821,0.12) (25020,-0.165) (25220,-0.19) (25420,0.055) (25619,0.04) (25818,-0.18) (26018,-0.14) (26218,0.055) (26417,-0.01) (26616,-0.185) (26816,-0.10) (27100,-0.05)};
\addplot[zl] coordinates {(-27500,0) (27020,0)};
\addplot[vz] coordinates {(0,-1) (0,1)};
\end{axis}
%================ BOTTOM RIGHT MAIN
\begin{axis}[mainax, at={(646pt,141pt)}, xmin=-14270, xmax=13145, ymin=0.26, ymax=38.08,
  ytick={5,10,15,20,25,30,35}, yticklabels={5,10,15,20,25,30,35}, yticklabel pos=right]
\addplot[obs] coordinates {(-14270,0.95) (-13800,0.88) (-13400,0.92) (-13000,0.86) (-12700,0.95) (-12450,1.1) (-12250,1.7) (-12100,3.2) (-11950,4.9) (-11800,4.4) (-11600,2.6) (-11400,1.5) (-11150,1.05) (-10800,0.9) (-10500,0.85) (-10000,0.9) (-9600,1.0) (-9300,1.4) (-9100,2.0) (-9000,2.16) (-8850,1.7) (-8600,1.1) (-8200,0.95) (-7700,0.9) (-7200,1.0) (-6700,1.05) (-6300,1.15) (-5850,1.32) (-5400,1.7) (-5000,2.1) (-4670,2.49) (-4300,2.9) (-3900,3.4) (-3490,4.0) (-3150,4.2) (-2870,4.5) (-2550,4.97) (-2200,5.8) (-1908,6.66) (-1600,7.9) (-1264,9.19) (-1050,10.8) (-900,12.4) (-750,15.0) (-620,16.4) (-540,15.6) (-455,14.8) (-350,17.5) (-250,24) (-150,33) (-60,40) (120,40) (220,32) (320,23) (420,18.8) (541,17.65) (650,19.5) (780,23.5) (900,27.5) (990,29.0) (1100,26) (1200,21) (1300,16.5) (1390,14.0) (1550,10.5) (1787,8.35) (2000,6.8) (2270,5.25) (2600,4.2) (2914,3.55) (3250,3.1) (3558,2.7) (3950,2.35) (4363,2.0) (4800,1.85) (5168,1.72) (5300,1.85) (5450,1.5) (5812,1.16) (6100,1.0) (6350,1.2) (6600,2.3) (6850,6.2) (7035,10.6) (7200,8.6) (7360,7.2) (7520,8.6) (7670,9.33) (7850,7.0) (8050,3.6) (8300,1.6) (8600,1.0) (8735,2.5) (8820,0.75) (9100,0.8) (9400,0.65) (9700,0.75) (10000,0.6) (10300,0.7) (10600,0.55) (10900,0.68) (11200,0.6) (11500,0.7) (11800,0.55) (12100,0.65) (12400,0.6) (12700,0.72) (13145,0.65)};
\addplot[gcomp] coordinates {(-14270,0.85) (13145,0.85)};
\addplot[gcomp] coordinates {(-570,0.888) (-480,1.041) (-390,1.607) (-300,3.184) (-210,6.451) (-120,11.31) (-30,16.07) (60,18.1) (150,16.07) (240,11.31) (330,6.451) (420,3.184) (510,1.607) (600,1.041) (690,0.888)};
\addplot[gcomp] coordinates {(-1250,0.857) (-1160,0.884) (-1070,0.985) (-980,1.267) (-890,1.85) (-800,2.718) (-710,3.568) (-620,3.93) (-530,3.568) (-440,2.718) (-350,1.85) (-260,1.267) (-170,0.985) (-80,0.884) (10,0.857)};
\addplot[gcomp] coordinates {(375,0.87) (470,0.951) (565,1.249) (660,2.08) (755,3.802) (850,6.363) (945,8.872) (1040,9.94) (1135,8.872) (1230,6.363) (1325,3.802) (1420,2.08) (1515,1.249) (1610,0.951) (1705,0.87)};
\addplot[gcomp] coordinates {(6385,0.862) (6480,0.913) (6575,1.098) (6670,1.614) (6765,2.685) (6860,4.277) (6955,5.836) (7050,6.5) (7145,5.836) (7240,4.277) (7335,2.685) (7430,1.614) (7525,1.098) (7620,0.913) (7715,0.862)};
\addplot[gcomp] coordinates {(7025,0.861) (7120,0.904) (7215,1.065) (7310,1.513) (7405,2.441) (7500,3.822) (7595,5.174) (7690,5.75) (7785,5.174) (7880,3.822) (7975,2.441) (8070,1.513) (8165,1.065) (8260,0.904) (8355,0.861)};
\addplot[gcomp] coordinates {(-12705,0.854) (-12590,0.872) (-12475,0.937) (-12360,1.118) (-12245,1.493) (-12130,2.051) (-12015,2.597) (-11900,2.83) (-11785,2.597) (-11670,2.051) (-11555,1.493) (-11440,1.118) (-11325,0.937) (-11210,0.872) (-11095,0.854)};
\addplot[gcomp] coordinates {(-9805,0.851) (-9690,0.856) (-9575,0.874) (-9460,0.924) (-9345,1.029) (-9230,1.184) (-9115,1.335) (-9000,1.40) (-8885,1.335) (-8770,1.184) (-8655,1.029) (-8540,0.924) (-8425,0.874) (-8310,0.856) (-8195,0.851)};
\addplot[rcomp] coordinates {(-8075,0.869) (-6950,0.944) (-5825,1.22) (-4700,1.991) (-3575,3.587) (-2450,5.963) (-1325,8.289) (-200,9.28) (925,8.289) (2050,5.963) (3175,3.587) (4300,1.991) (5425,1.22) (6550,0.944) (7675,0.869)};
\addplot[rcomp] coordinates {(-2270,0.869) (-1880,0.946) (-1490,1.231) (-1100,2.024) (-710,3.668) (-320,6.114) (70,8.51) (460,9.53) (850,8.51) (1240,6.114) (1630,3.668) (2020,2.024) (2410,1.231) (2800,0.946) (3190,0.869)};
\addplot[ocomp] coordinates {(-13500,0.852) (-13250,0.862) (-13000,0.897) (-12750,0.995) (-12500,1.197) (-12250,1.499) (-12000,1.794) (-11750,1.92) (-11500,1.794) (-11250,1.499) (-11000,1.197) (-10750,0.995) (-10500,0.897) (-10250,0.862) (-10000,0.852)};
\addplot[ocomp] coordinates {(5500,0.852) (5710,0.861) (5920,0.892) (6130,0.979) (6340,1.158) (6550,1.426) (6760,1.688) (6970,1.8) (7180,1.688) (7390,1.426) (7600,1.158) (7810,0.979) (8020,0.892) (8230,0.861) (8440,0.852)};
\addplot[ocomp] coordinates {(6305,0.852) (6515,0.861) (6725,0.892) (6935,0.979) (7145,1.158) (7355,1.426) (7565,1.688) (7775,1.8) (7985,1.688) (8195,1.426) (8405,1.158) (8615,0.979) (8825,0.892) (9035,0.861) (9245,0.852)};
\addplot[mod] coordinates {(-14270,0.88) (-13000,0.88) (-12500,1.0) (-12200,1.6) (-12000,3.3) (-11900,4.6) (-11750,4.2) (-11550,2.4) (-11300,1.3) (-11000,0.95) (-10000,0.88) (-9300,1.1) (-9000,1.95) (-8700,1.2) (-8300,0.92) (-7500,0.9) (-6500,1.0) (-5800,1.25) (-5200,1.75) (-4600,2.45) (-4000,3.2) (-3500,3.95) (-2900,4.6) (-2500,5.1) (-1900,6.7) (-1300,9.2) (-1000,11.5) (-800,14.0) (-650,16.3) (-520,15.5) (-400,16.0) (-280,19) (-180,26) (-80,36) (0,40) (150,40) (250,32) (350,22) (450,18.5) (550,18.0) (650,19.5) (800,23.5) (920,27.5) (990,28.4) (1100,26) (1250,19) (1400,14.5) (1600,10.5) (1800,8.6) (2000,7.2) (2300,5.6) (2600,4.6) (2900,3.8) (3500,2.8) (4300,2.1) (5100,1.6) (5800,1.2) (6300,1.2) (6600,2.3) (6850,6.5) (7048,10.8) (7200,8.6) (7360,7.4) (7550,8.8) (7713,9.2) (7900,6.5) (8100,3.2) (8400,1.35) (8700,0.95) (9500,0.85) (13145,0.82)};
\addplot[vz] coordinates {(0,0) (0,40)};
\node[anchor=west, font=\labfont\bfseries\fontsize{32}{36}\selectfont, text=labred, inner sep=0pt] at (rel axis cs:0.060,0.803) {QDeblend3D};
\node[anchor=west, font=\txtsize, inner sep=0pt] at (rel axis cs:0.151,0.573) {H\textit{α} region};
\end{axis}
\begin{axis}[twinax, at={(646pt,141pt)}, xmin=6250, xmax=6851,
  xtick={6300,6400,6500,6600,6700,6800}, xticklabels={6300,6400,6500,6600,6700,6800}]
\end{axis}
%================ BOTTOM RIGHT RESIDUAL
\begin{axis}[resax, at={(646pt,50pt)}, xmin=-14270, xmax=13145, ymin=-0.5, ymax=0.5,
  xtick={-10000,-5000,0,5000,10000}, xticklabels={−10000,−5000,0,5000,10000},
  ytick={-0.5,-0.25,0,0.25,0.5}, yticklabels={−0.50,−0.25,0.00,0.25,0.50}, yticklabel pos=right]
\addplot[res] coordinates {(-14270,0.05) (-14172,-0.01) (-13976,0.08) (-13780,-0.10) (-13584,-0.01) (-13388,-0.14) (-13192,-0.05) (-12997,0.04) (-12801,0.17) (-12605,-0.01) (-12409,0.21) (-12213,-0.23) (-12017,0.12) (-11860,0.48) (-11723,0.12) (-11527,0.21) (-11331,-0.19) (-11135,0.08) (-10939,0.17) (-10743,-0.05) (-10547,0.12) (-10351,0.21) (-10155,-0.01) (-9959,0.26) (-9763,0.08) (-9568,-0.05) (-9372,0.12) (-9176,0.08) (-8980,-0.01) (-8784,0.26) (-8588,0.34) (-8392,0.12) (-8196,0.34) (-8000,0.17) (-7804,0.30) (-7608,0.08) (-7412,0.21) (-7216,0.04) (-7020,0.26) (-6824,0.17) (-6628,0.30) (-6432,0.21) (-6237,0.12) (-6041,0.5) (-5845,-0.01) (-5649,0.30) (-5453,0.17) (-5257,0.21) (-5061,0.12) (-4865,-0.19) (-4669,-0.41) (-4473,-0.10) (-4277,-0.27) (-4081,-0.05) (-3885,-0.19) (-3689,-0.01) (-3493,0.12) (-3297,0.08) (-3101,0.30) (-2906,0.34) (-2710,0.21) (-2514,0.39) (-2318,0.26) (-2122,0.12) (-1926,0.04) (-1730,0.17) (-1534,0.08) (-1338,-0.14) (-1142,-0.32) (-946,-0.45) (-750,-0.6) (-554,-0.14) (-456,0.6) (-358,-0.6) (-162,0.12) (34,0.6) (230,-0.6) (425,-0.23) (621,0.12) (817,-0.6) (915,0.6) (1111,-0.23) (1209,-0.6) (1405,0.6) (1601,-0.23) (1797,-0.6) (1993,-0.6) (2189,-0.49) (2385,-0.32) (2581,-0.23) (2777,-0.10) (2973,0.08) (3169,-0.01) (3365,0.21) (3561,0.12) (3757,0.30) (3953,0.26) (4149,0.34) (4345,0.26) (4541,0.39) (4737,0.34) (4933,0.43) (5128,0.5) (5324,0.43) (5520,0.34) (5716,0.26) (5912,0.12) (6108,-0.05) (6304,-0.23) (6500,0.12) (6696,-0.32) (6892,0.12) (6989,-0.6) (7087,0.12) (7283,0.26) (7479,-0.6) (7675,-0.01) (7871,0.21) (8067,-0.32) (8263,-0.10) (8459,0.12) (8655,0.6) (8753,-0.41) (8949,-0.01) (9145,0.12) (9341,-0.05) (9537,-0.23) (9733,0.04) (9929,-0.14) (10125,0.12) (10320,-0.19) (10516,0.08) (10712,-0.10) (10908,-0.23) (11104,-0.01) (11300,-0.19) (11496,-0.05) (11692,-0.27) (11888,-0.01) (12084,-0.19) (12280,-0.10) (12476,-0.01) (12672,-0.23) (12868,-0.14) (12966,-0.27) (13145,-0.2)};
\addplot[zl] coordinates {(-14270,0) (13145,0)};
\addplot[vz] coordinates {(0,-1) (0,1)};
\end{axis}
%================ LABELS
\node[rotate=90, font=\labsize, inner sep=0pt] at (37pt,1015pt) {F\textsubscript{\textit{λ}} [10\textsuperscript{−16} ergs cm\textsuperscript{−2} s\textsuperscript{−1} \textit{Å}\textsuperscript{−1}]};
\node[rotate=90, font=\labsize, inner sep=0pt] at (37pt,364pt) {F\textsubscript{\textit{λ}} [10\textsuperscript{−16} ergs cm\textsuperscript{−2} s\textsuperscript{−1} \textit{Å}\textsuperscript{−1}]};
\node[font=\labsize, inner sep=0pt] at (364pt,665pt) {Δ\textit{v}\textsubscript{\textit{r}} [\textit{km s}\textsuperscript{−1}]};
\node[font=\labsize, inner sep=0pt] at (928pt,665pt) {Δ\textit{v}\textsubscript{\textit{r}} [\textit{km s}\textsuperscript{−1}]};
\node[font=\labsize, inner sep=0pt] at (364pt,15pt) {Δ\textit{v}\textsubscript{\textit{r}} [\textit{km s}\textsuperscript{−1}]};
\node[font=\labsize, inner sep=0pt] at (928pt,15pt) {Δ\textit{v}\textsubscript{\textit{r}} [\textit{km s}\textsuperscript{−1}]};
\end{tikzpicture}
\end{document}
